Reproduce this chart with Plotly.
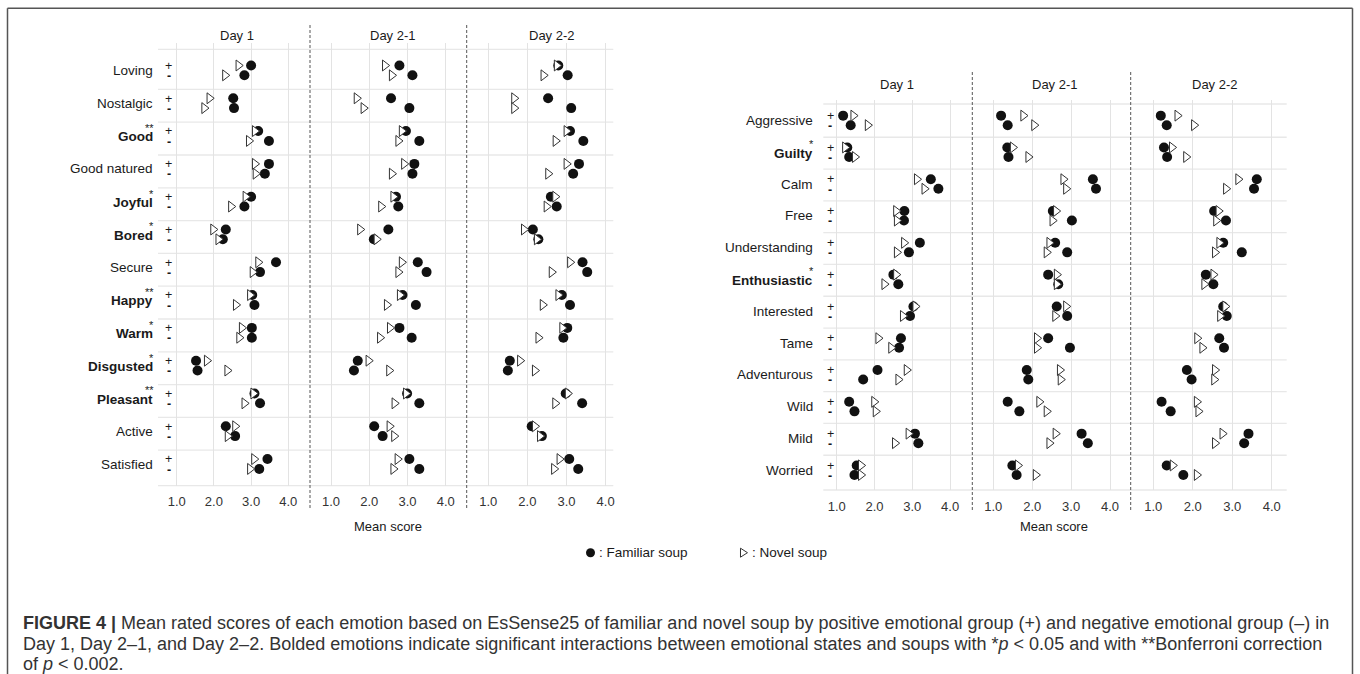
import plotly.graph_objects as go

W, H = 1360, 674

# ---------------- data ----------------
DAYS = ["Day 1", "Day 2-1", "Day 2-2"]
TICK_VALS = [1, 2, 3, 4]
TICK_TEXT = ["1.0", "2.0", "3.0", "4.0"]

LEFT_EMOTIONS = ["Loving", "Nostalgic", "Good", "Good natured", "Joyful", "Bored", "Secure",
                 "Happy", "Warm", "Disgusted", "Pleasant", "Active", "Satisfied"]
LEFT_SIG = ["", "", "**", "", "*", "*", "", "**", "*", "*", "**", "", ""]

RIGHT_EMOTIONS = ["Aggressive", "Guilty", "Calm", "Free", "Understanding", "Enthusiastic",
                  "Interested", "Tame", "Adventurous", "Wild", "Mild", "Worried"]
RIGHT_SIG = ["", "*", "", "", "", "*", "", "", "", "", "", ""]

# Left panel, familiar soup (+ / - group) and novel soup (+ / - group)
L_D1_FAM_POS = [3.00, 2.52, 3.19, 3.48, 3.00, 2.32, 3.67, 3.03, 3.02, 1.52, 3.09, 2.32, 3.44]
L_D1_FAM_NEG = [2.82, 2.54, 3.48, 3.37, 2.82, 2.24, 3.24, 3.09, 3.02, 1.56, 3.24, 2.57, 3.22]
L_D1_NOV_POS = [2.66, 1.88, 3.10, 3.10, 2.85, 1.98, 3.19, 2.97, 2.75, 1.81, 3.06, 2.57, 3.08]
L_D1_NOV_NEG = [2.30, 1.74, 2.94, 3.12, 2.46, 2.12, 3.04, 2.59, 2.68, 2.36, 2.82, 2.37, 2.97]

L_D21_FAM_POS = [2.79, 2.57, 2.96, 3.18, 2.70, 2.50, 3.27, 2.87, 2.79, 1.70, 2.99, 2.13, 3.05]
L_D21_FAM_NEG = [3.13, 3.05, 3.31, 3.13, 2.76, 2.12, 3.50, 3.22, 3.11, 1.60, 3.31, 2.35, 3.31]
L_D21_NOV_POS = [2.41, 1.67, 2.85, 2.91, 2.63, 1.76, 2.85, 2.80, 2.54, 1.98, 2.96, 2.53, 2.74]
L_D21_NOV_NEG = [2.59, 1.85, 2.76, 2.59, 2.31, 2.19, 2.76, 2.46, 2.28, 2.52, 2.66, 2.65, 2.63]

L_D22_FAM_POS = [2.79, 2.53, 3.09, 3.32, 2.60, 2.14, 3.41, 2.88, 3.02, 1.55, 2.98, 2.11, 3.07]
L_D22_FAM_NEG = [3.03, 3.12, 3.43, 3.17, 2.75, 2.28, 3.53, 3.09, 2.92, 1.50, 3.40, 2.37, 3.30]
L_D22_NOV_POS = [2.75, 1.66, 3.00, 3.00, 2.71, 1.91, 3.09, 2.79, 2.89, 1.81, 3.03, 2.19, 2.82]
L_D22_NOV_NEG = [2.41, 1.66, 2.72, 2.53, 2.49, 2.24, 2.62, 2.39, 2.28, 2.19, 2.71, 2.32, 2.68]

# Right panel
R_D1_FAM_POS = [1.17, 1.28, 3.49, 2.79, 3.20, 2.50, 3.03, 2.70, 2.08, 1.33, 3.07, 1.53]
R_D1_FAM_NEG = [1.37, 1.33, 3.69, 2.78, 2.91, 2.63, 2.94, 2.65, 1.70, 1.47, 3.16, 1.47]
R_D1_NOV_POS = [1.44, 1.22, 3.12, 2.57, 2.78, 2.57, 3.08, 2.10, 2.85, 1.99, 2.90, 1.64]
R_D1_NOV_NEG = [1.82, 1.48, 3.32, 2.59, 2.59, 2.26, 2.75, 2.44, 2.63, 2.03, 2.54, 1.64]

R_D21_FAM_POS = [1.20, 1.36, 3.56, 2.53, 2.59, 2.41, 2.63, 2.41, 1.86, 1.37, 3.27, 1.49]
R_D21_FAM_NEG = [1.37, 1.39, 3.64, 3.02, 2.90, 2.67, 2.90, 2.97, 1.90, 1.67, 3.43, 1.60]
R_D21_NOV_POS = [1.77, 1.50, 2.80, 2.61, 2.44, 2.63, 2.87, 2.12, 2.71, 2.18, 2.60, 1.63]
R_D21_NOV_NEG = [2.05, 1.90, 2.87, 2.52, 2.37, 2.63, 2.59, 2.12, 2.73, 2.37, 2.44, 2.09]

R_D22_FAM_POS = [1.19, 1.27, 3.62, 2.54, 2.77, 2.33, 2.77, 2.67, 1.85, 1.21, 3.41, 1.34]
R_D22_FAM_NEG = [1.34, 1.35, 3.55, 2.84, 3.24, 2.52, 2.86, 2.79, 1.97, 1.44, 3.30, 1.76]
R_D22_NOV_POS = [1.61, 1.47, 3.15, 2.65, 2.67, 2.52, 2.82, 2.11, 2.56, 2.10, 2.75, 1.49]
R_D22_NOV_NEG = [2.03, 1.83, 2.84, 2.59, 2.56, 2.29, 2.69, 2.24, 2.54, 2.14, 2.56, 2.10]

LEFT_DATA = [
    (L_D1_FAM_POS, L_D1_FAM_NEG, L_D1_NOV_POS, L_D1_NOV_NEG),
    (L_D21_FAM_POS, L_D21_FAM_NEG, L_D21_NOV_POS, L_D21_NOV_NEG),
    (L_D22_FAM_POS, L_D22_FAM_NEG, L_D22_NOV_POS, L_D22_NOV_NEG),
]
RIGHT_DATA = [
    (R_D1_FAM_POS, R_D1_FAM_NEG, R_D1_NOV_POS, R_D1_NOV_NEG),
    (R_D21_FAM_POS, R_D21_FAM_NEG, R_D21_NOV_POS, R_D21_NOV_NEG),
    (R_D22_FAM_POS, R_D22_FAM_NEG, R_D22_NOV_POS, R_D22_NOV_NEG),
]

# ---------------- layout geometry (pixels) ----------------
FONT = "Liberation Sans, Arial, Helvetica, sans-serif"


def px(x):
    return x / W


def py(y):
    return 1 - y / H


PANELS = [
    dict(  # left
        emotions=LEFT_EMOTIONS, sig=LEFT_SIG, data=LEFT_DATA,
        xdom=[(158, 309), (311, 466), (468, 613.3)],
        xcal=[(176.7, 37.2), (331.0, 38.23), (488.3, 39.1)],
        ytop=42.7, ybot=485.7, c0=70.4, step=32.8,
        hl_left=158, hl_right=613.3, hl_top=49.3, hl_off=0.58,
        label_x=155, pm_x=168.5, strip_y=36,
        strip_x=[236.7, 392.7, 551.7], seps=[310, 466.7], sep_y=(25, 510),
        title_x=388, yaxis="y", first_x=1,
    ),
    dict(  # right
        emotions=RIGHT_EMOTIONS, sig=RIGHT_SIG, data=RIGHT_DATA,
        xdom=[(823.3, 971), (974, 1129.5), (1132, 1286.7)],
        xcal=[(836.7, 37.8), (993.3, 38.9), (1153.3, 39.5)],
        ytop=100, ybot=490, c0=120.4, step=31.8,
        hl_left=823.3, hl_right=1286.7, hl_top=104, hl_off=0.53,
        label_x=815, pm_x=830, strip_y=85,
        strip_x=[897, 1055, 1215], seps=[972.3, 1130.7], sep_y=(72, 512),
        title_x=1054, yaxis="y2", first_x=4,
    ),
]

fig = go.Figure()
layout = dict(
    width=W, height=H, autosize=False,
    margin=dict(l=0, r=0, t=0, b=0),
    paper_bgcolor="white", plot_bgcolor="white",
    showlegend=False, font=dict(family=FONT, color="#222"),
)
annotations = []
shapes = []

OFF = 0.15  # vertical offset of +/- rows (in row units)

for p_i, P in enumerate(PANELS):
    n = len(P["emotions"])
    yname = P["yaxis"]
    ykey = "yaxis" if yname == "y" else "yaxis2"
    y_lo = (P["ybot"] - P["c0"]) / P["step"]
    y_hi = (P["ytop"] - P["c0"]) / P["step"]
    layout[ykey] = dict(
        domain=[py(P["ybot"]), py(P["ytop"])], range=[y_lo, y_hi],
        showgrid=False, zeroline=False, showticklabels=False, showline=False,
        anchor="x" if P["first_x"] == 1 else "x%d" % P["first_x"],
    )
    for d in range(3):
        k = P["first_x"] + d
        xname = "x" if k == 1 else "x%d" % k
        xkey = "xaxis" if k == 1 else "xaxis%d" % k
        d0, d1 = P["xdom"][d]
        x1, u = P["xcal"][d]
        layout[xkey] = dict(
            domain=[px(d0), px(d1)],
            range=[1 + (d0 - x1) / u, 1 + (d1 - x1) / u],
            anchor=yname, tickvals=TICK_VALS, ticktext=TICK_TEXT,
            showgrid=True, gridcolor="#e3e3e3", gridwidth=1.3,
            zeroline=False, showline=False,
            ticks="outside", ticklen=4, tickcolor="rgba(0,0,0,0)",
            tickfont=dict(size=13, color="#333", family=FONT),
        )
        fam_pos, fam_neg, nov_pos, nov_neg = P["data"][d]
        ys = [i - OFF for i in range(n)] + [i + OFF for i in range(n)]
        fig.add_trace(go.Scatter(
            x=list(fam_pos) + list(fam_neg), y=ys, xaxis=xname, yaxis=yname,
            mode="markers", cliponaxis=False,
            marker=dict(symbol="circle", size=10, color="#111"),
            name="Familiar soup",
        ))
        fig.add_trace(go.Scatter(
            x=list(nov_pos) + list(nov_neg), y=ys, xaxis=xname, yaxis=yname,
            mode="markers", cliponaxis=False,
            marker=dict(symbol="triangle-right", size=9.5, color="white",
                        line=dict(color="#333", width=1)),
            name="Novel soup",
        ))
        # strip label
        annotations.append(dict(
            x=px(P["strip_x"][d]), y=py(P["strip_y"]), xref="paper", yref="paper",
            text=DAYS[d], showarrow=False, xanchor="center", yanchor="middle",
            font=dict(size=13, color="#1a1a1a", family=FONT),
        ))

    # emotion labels and +/- labels
    for i, emo in enumerate(P["emotions"]):
        cy = P["c0"] + P["step"] * i
        sig = P["sig"][i]
        annotations.append(dict(
            x=px(P["label_x"]), y=py(cy + (1 if sig else 0)), xref="paper", yref="paper",
            text=("<b>%s</b>" % emo) if sig else emo, showarrow=False,
            xanchor="right", yanchor="middle",
            font=dict(size=13.5, color="#1a1a1a", family=FONT),
        ))
        if sig:
            annotations.append(dict(
                x=px(P["label_x"] + 1), y=py(cy - 8), xref="paper", yref="paper",
                text=sig, showarrow=False, xanchor="right", yanchor="middle",
                font=dict(size=11, color="#1a1a1a", family=FONT),
            ))
        annotations.append(dict(
            x=px(P["pm_x"]), y=py(cy - 4.6), xref="paper", yref="paper",
            text="+", showarrow=False, xanchor="center", yanchor="middle",
            font=dict(size=12.5, color="#1a1a1a", family=FONT),
        ))
        annotations.append(dict(
            x=px(P["pm_x"]), y=py(cy + 5.6), xref="paper", yref="paper",
            text="<b>-</b>", showarrow=False, xanchor="center", yanchor="middle",
            font=dict(size=12.5, color="#1a1a1a", family=FONT),
        ))

    # horizontal row lines
    line_style = dict(color="#e8e8e8", width=1.3)
    for yy in (P["hl_top"], P["ybot"]):
        shapes.append(dict(type="line", xref="paper", yref="paper",
                           x0=px(P["hl_left"]), x1=px(P["hl_right"]), y0=py(yy), y1=py(yy),
                           line=line_style, layer="below"))
    for kk in range(n - 1):
        yv = kk + P["hl_off"]
        shapes.append(dict(type="line", xref="paper", yref=yname,
                           x0=px(P["hl_left"]), x1=px(P["hl_right"]), y0=yv, y1=yv,
                           line=line_style, layer="below"))
    # dashed facet separators
    for sx in P["seps"]:
        shapes.append(dict(type="line", xref="paper", yref="paper",
                           x0=px(sx), x1=px(sx), y0=py(P["sep_y"][0]), y1=py(P["sep_y"][1]),
                           line=dict(color="#555", width=1, dash="3px,2px")))
    # axis title
    annotations.append(dict(
        x=px(P["title_x"]), y=py(526), xref="paper", yref="paper",
        text="Mean score", showarrow=False, xanchor="center", yanchor="middle",
        font=dict(size=13, color="#1a1a1a", family=FONT),
    ))

# legend (drawn)
shapes.append(dict(type="circle", xref="paper", yref="paper",
                   x0=px(586), x1=px(595), y0=py(557.2), y1=py(548.2),
                   fillcolor="#111", line=dict(color="#111", width=0)))
shapes.append(dict(type="path", xref="paper", yref="paper",
                   path="M %f,%f L %f,%f L %f,%f Z" % (px(740.5), py(548.2), px(747.5), py(552.7),
                                                       px(740.5), py(557.2)),
                   fillcolor="white", line=dict(color="#333", width=1)))
annotations.append(dict(x=px(597), y=py(552.7), xref="paper", yref="paper",
                        text=": Familiar soup", showarrow=False, xanchor="left", yanchor="middle",
                        font=dict(size=13.5, color="#1a1a1a", family=FONT)))
annotations.append(dict(x=px(749.5), y=py(552.7), xref="paper", yref="paper",
                        text=": Novel soup", showarrow=False, xanchor="left", yanchor="middle",
                        font=dict(size=13.5, color="#1a1a1a", family=FONT)))

# figure frame
frame = dict(color="#555", width=1.5)
shapes.append(dict(type="line", xref="paper", yref="paper", x0=px(7.5), x1=px(1352.5),
                   y0=py(8.3), y1=py(8.3), line=frame))
shapes.append(dict(type="line", xref="paper", yref="paper", x0=px(7.5), x1=px(7.5),
                   y0=py(8.3), y1=py(H + 2), line=frame))
shapes.append(dict(type="line", xref="paper", yref="paper", x0=px(1352.5), x1=px(1352.5),
                   y0=py(8.3), y1=py(H + 2), line=frame))

# caption
CAPTION = [
    "<b>FIGURE 4 |</b> Mean rated scores of each emotion based on EsSense25 of familiar and novel soup "
    "by positive emotional group (+) and negative emotional group (\u2013) in",
    "Day 1, Day 2\u20131, and Day 2\u20132. Bolded emotions indicate significant interactions between "
    "emotional states and soups with *<i>p</i> &lt; 0.05 and with **Bonferroni correction",
    "of <i>p</i> &lt; 0.002.",
]
for li, line in enumerate(CAPTION):
    annotations.append(dict(
        x=px(21), y=py(623 + 20.5 * li), xref="paper", yref="paper",
        text=line, showarrow=False, xanchor="left", yanchor="middle",
        font=dict(size=18, color="#333", family=FONT),
    ))

layout["annotations"] = annotations
layout["shapes"] = shapes
fig.update_layout(**layout)
fig.write_html("out.html")
